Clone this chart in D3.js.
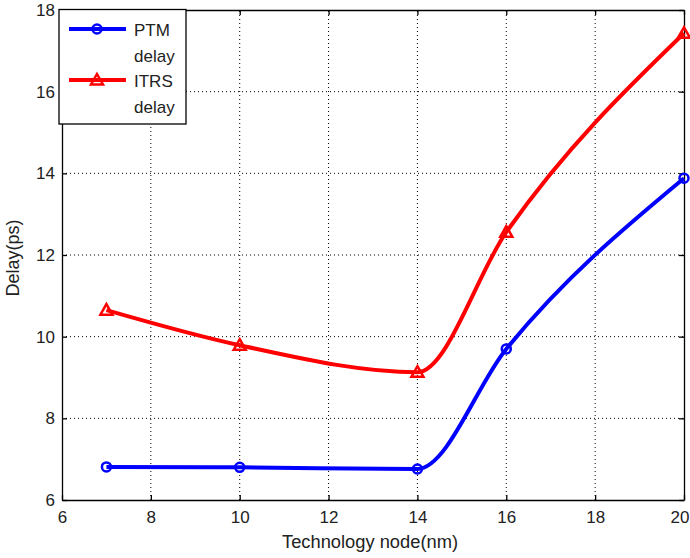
<!DOCTYPE html>
<html>
<head>
<meta charset="utf-8">
<title>Delay vs technology node</title>
<script src="https://d3js.org/d3.v7.min.js"></script>
<style>
  body { margin: 0; background: #fff; }
  text { font-family: "Liberation Sans", Arial, sans-serif; }
</style>
</head>
<body>
<script>
var nodes = [7, 10, 14, 16, 20];
var ptmDelay = [6.81, 6.80, 6.76, 9.70, 13.88];
var itrsDelay = [10.65, 9.79, 9.13, 12.56, 17.43];
var xTicks = [6, 8, 10, 12, 14, 16, 18, 20];
var yTicks = [6, 8, 10, 12, 14, 16, 18];

var width = 690, height = 558;
var margin = {left: 62, right: 6, top: 10, bottom: 58};
var x0 = margin.left, x1 = width - margin.right;
var y0 = height - margin.bottom, y1 = margin.top;

var svg = d3.select("body").append("svg")
    .attr("width", width)
    .attr("height", height);

var x = d3.scaleLinear().domain([6, 20]).range([x0, x1]);
var y = d3.scaleLinear().domain([6, 18]).range([y0, y1]);

// grid
svg.append("g").selectAll("line").data(xTicks.slice(1, -1)).enter().append("line")
    .attr("x1", function(d) { return x(d); }).attr("x2", function(d) { return x(d); })
    .attr("y1", y0).attr("y2", y1)
    .attr("stroke", "#000").attr("stroke-width", 1).attr("stroke-dasharray", "1,3");
svg.append("g").selectAll("line").data(yTicks.slice(1, -1)).enter().append("line")
    .attr("y1", function(d) { return y(d); }).attr("y2", function(d) { return y(d); })
    .attr("x1", x0).attr("x2", x1)
    .attr("stroke", "#000").attr("stroke-width", 1).attr("stroke-dasharray", "1,3");

// axes (ticks inward, mirrored)
var gx = svg.append("g").attr("transform", "translate(0," + y0 + ")")
    .call(d3.axisBottom(x).tickValues(xTicks).tickSizeInner(-5).tickSizeOuter(0).tickPadding(11));
var gy = svg.append("g").attr("transform", "translate(" + x0 + ",0)")
    .call(d3.axisLeft(y).tickValues(yTicks).tickSizeInner(-5).tickSizeOuter(0).tickPadding(7));
var gxt = svg.append("g").attr("transform", "translate(0," + y1 + ")")
    .call(d3.axisTop(x).tickValues(xTicks).tickSizeInner(-5).tickSizeOuter(0).tickFormat(""));
var gyr = svg.append("g").attr("transform", "translate(" + x1 + ",0)")
    .call(d3.axisRight(y).tickValues(yTicks).tickSizeInner(-5).tickSizeOuter(0).tickFormat(""));
[gx, gy, gxt, gyr].forEach(function(g) {
    g.selectAll("path, line").attr("stroke", "#000").attr("stroke-width", 1.3);
    g.selectAll("text").attr("font-size", "17px").attr("fill", "#222")
        .style("font-family", "'Liberation Sans', Arial, sans-serif");
});
// last x label sits against the right edge
gx.selectAll(".tick text").filter(function(d) { return d === 20; })
    .attr("text-anchor", "end").attr("x", width - 1 - x(20));

svg.append("text").attr("x", 370).attr("y", 548)
    .attr("text-anchor", "middle").attr("font-size", "18px").attr("fill", "#222")
    .attr("textLength", 176).attr("lengthAdjust", "spacingAndGlyphs")
    .text("Technology node(nm)");
svg.append("text").attr("transform", "translate(19,258) rotate(-90)")
    .attr("text-anchor", "middle").attr("font-size", "18px").attr("fill", "#222")
    .attr("textLength", 77).attr("lengthAdjust", "spacingAndGlyphs")
    .text("Delay(ps)");

var line = d3.line().curve(d3.curveMonotoneX)
    .x(function(d) { return x(d[0]); })
    .y(function(d) { return y(d[1]); });

var series = [
    {name: "PTM", vals: ptmDelay, color: "#0000ff", marker: "circle"},
    {name: "ITRS", vals: itrsDelay, color: "#ff0000", marker: "triangle"}
];

function drawMarker(g, type, color, cx, cy) {
    if (type === "circle") {
        g.append("circle").attr("cx", cx).attr("cy", cy).attr("r", 4.5)
            .attr("fill", "none").attr("stroke", color).attr("stroke-width", 2.5);
    } else {
        var s = 6;
        g.append("path")
            .attr("d", "M" + cx + "," + (cy - s) + "L" + (cx + s) + "," + (cy + s * 0.75) + "L" + (cx - s) + "," + (cy + s * 0.75) + "Z")
            .attr("fill", "none").attr("stroke", color).attr("stroke-width", 2.5)
            .attr("stroke-linejoin", "miter");
    }
}

series.forEach(function(s) {
    var pts = nodes.map(function(n, i) { return [n, s.vals[i]]; });
    svg.append("path").datum(pts).attr("d", line)
        .attr("fill", "none").attr("stroke", s.color).attr("stroke-width", 4);
    var mg = svg.append("g");
    pts.forEach(function(p) { drawMarker(mg, s.marker, s.color, x(p[0]), y(p[1])); });
});

// legend
var lg = svg.append("g");
lg.append("rect").attr("x", 59).attr("y", 9.5).attr("width", 127).attr("height", 114.5)
    .attr("fill", "#fff").attr("stroke", "#000").attr("stroke-width", 1.3);
series.forEach(function(s, i) {
    var ly = 29 + i * 51;
    lg.append("line").attr("x1", 69).attr("x2", 126).attr("y1", ly).attr("y2", ly)
        .attr("stroke", s.color).attr("stroke-width", 4);
    drawMarker(lg, s.marker, s.color, 97, ly);
    lg.append("text").attr("x", 134).attr("y", ly + 7).attr("font-size", "17px").attr("fill", "#222").text(s.name);
    lg.append("text").attr("x", 134).attr("y", ly + 33).attr("font-size", "17px").attr("fill", "#222").text("delay");
});
</script>
</body>
</html>
